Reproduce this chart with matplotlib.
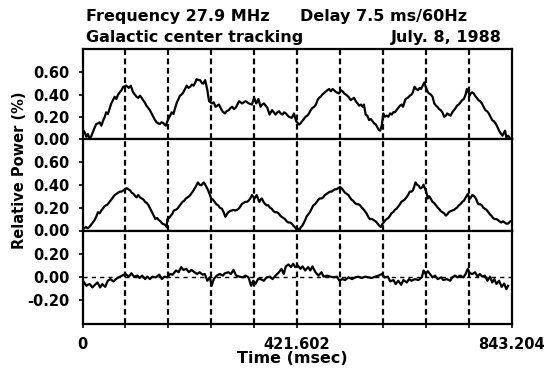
import numpy as np
import matplotlib
matplotlib.use("Agg")
import matplotlib.pyplot as plt

plt.rcParams['font.family'] = ['DejaVu Sans']
plt.rcParams['font.weight'] = 'bold'

# Sweep length and the delay grid that splits it into ten steps
SPAN_MS = 843.204
N_STEPS = 10
STEP_MS = SPAN_MS / N_STEPS

# Traces: (position in delay steps, relative power)
top_trace = [
    (0.00, 0.09), (0.05, 0.06), (0.09, 0.02), (0.125, 0.045), (0.16, 0.01), (0.20, 0.02),
    (0.24, 0.06), (0.28, 0.10), (0.32, 0.135), (0.36, 0.14), (0.40, 0.15), (0.44, 0.12),
    (0.48, 0.165), (0.52, 0.20), (0.55, 0.24), (0.59, 0.225), (0.63, 0.27), (0.67, 0.32),
    (0.71, 0.35), (0.75, 0.38), (0.79, 0.36), (0.83, 0.40), (0.87, 0.42), (0.91, 0.44),
    (0.95, 0.47), (1.02, 0.48), (1.08, 0.46), (1.125, 0.48), (1.18, 0.42), (1.22, 0.40),
    (1.26, 0.38), (1.30, 0.37), (1.34, 0.39), (1.38, 0.37), (1.41, 0.35), (1.45, 0.33),
    (1.49, 0.30), (1.53, 0.28), (1.57, 0.26), (1.61, 0.23), (1.65, 0.20), (1.69, 0.17),
    (1.73, 0.15), (1.77, 0.14), (1.80, 0.135), (1.84, 0.15), (1.88, 0.145), (1.91, 0.13),
    (1.94, 0.12), (1.97, 0.15), (2.00, 0.18), (2.04, 0.21), (2.08, 0.24), (2.12, 0.225),
    (2.16, 0.28), (2.20, 0.33), (2.24, 0.36), (2.27, 0.39), (2.31, 0.40), (2.35, 0.42),
    (2.39, 0.45), (2.43, 0.48), (2.47, 0.46), (2.51, 0.47), (2.55, 0.49), (2.59, 0.48),
    (2.63, 0.51), (2.66, 0.54), (2.70, 0.53), (2.74, 0.53), (2.79, 0.50), (2.82, 0.50),
    (2.86, 0.53), (2.91, 0.44), (2.95, 0.34), (3.02, 0.32), (3.06, 0.33), (3.10, 0.29),
    (3.14, 0.30), (3.18, 0.31), (3.22, 0.28), (3.26, 0.25), (3.32, 0.23), (3.36, 0.25),
    (3.41, 0.26), (3.45, 0.28), (3.49, 0.29), (3.53, 0.27), (3.57, 0.28), (3.61, 0.31),
    (3.65, 0.34), (3.72, 0.32), (3.76, 0.33), (3.80, 0.34), (3.84, 0.33), (3.88, 0.32),
    (3.95, 0.31), (4.00, 0.37), (4.05, 0.32), (4.10, 0.36), (4.15, 0.29), (4.19, 0.31),
    (4.23, 0.32), (4.27, 0.30), (4.31, 0.28), (4.36, 0.22), (4.42, 0.26), (4.46, 0.24),
    (4.50, 0.22), (4.54, 0.24), (4.58, 0.25), (4.62, 0.23), (4.66, 0.22), (4.70, 0.24),
    (4.74, 0.23), (4.81, 0.20), (4.88, 0.19), (4.93, 0.23), (4.98, 0.16), (5.05, 0.13),
    (5.08, 0.14), (5.12, 0.16), (5.16, 0.18), (5.20, 0.20), (5.24, 0.21), (5.28, 0.23),
    (5.32, 0.26), (5.36, 0.28), (5.40, 0.29), (5.44, 0.31), (5.48, 0.35), (5.51, 0.37),
    (5.55, 0.38), (5.59, 0.40), (5.65, 0.42), (5.71, 0.44), (5.75, 0.45), (5.79, 0.43),
    (5.83, 0.45), (5.86, 0.44), (5.92, 0.42), (5.98, 0.41), (6.02, 0.44), (6.06, 0.43),
    (6.10, 0.41), (6.14, 0.40), (6.20, 0.38), (6.25, 0.35), (6.29, 0.36), (6.33, 0.37),
    (6.37, 0.34), (6.41, 0.32), (6.45, 0.30), (6.49, 0.31), (6.53, 0.29), (6.56, 0.31),
    (6.60, 0.22), (6.64, 0.21), (6.68, 0.17), (6.72, 0.18), (6.76, 0.16), (6.80, 0.14),
    (6.84, 0.13), (6.88, 0.10), (6.91, 0.08), (6.94, 0.075), (6.98, 0.13), (7.01, 0.23),
    (7.05, 0.20), (7.09, 0.21), (7.13, 0.20), (7.17, 0.23), (7.21, 0.22), (7.24, 0.24),
    (7.28, 0.24), (7.32, 0.26), (7.36, 0.28), (7.40, 0.30), (7.44, 0.31), (7.47, 0.29),
    (7.53, 0.36), (7.58, 0.37), (7.63, 0.39), (7.67, 0.40), (7.70, 0.42), (7.74, 0.47),
    (7.78, 0.45), (7.82, 0.44), (7.86, 0.46), (7.89, 0.45), (7.93, 0.48), (7.97, 0.51),
    (8.00, 0.47), (8.02, 0.45), (8.05, 0.42), (8.08, 0.41), (8.12, 0.40), (8.16, 0.38),
    (8.20, 0.32), (8.24, 0.30), (8.27, 0.29), (8.31, 0.27), (8.35, 0.26), (8.39, 0.24),
    (8.43, 0.20), (8.47, 0.21), (8.50, 0.23), (8.54, 0.22), (8.58, 0.21), (8.62, 0.24),
    (8.66, 0.26), (8.70, 0.28), (8.73, 0.30), (8.77, 0.31), (8.81, 0.33), (8.85, 0.35),
    (8.89, 0.36), (8.93, 0.40), (8.96, 0.45), (9.00, 0.42), (9.02, 0.39), (9.05, 0.41),
    (9.08, 0.42), (9.12, 0.41), (9.15, 0.39), (9.19, 0.37), (9.23, 0.35), (9.27, 0.34),
    (9.31, 0.32), (9.35, 0.29), (9.39, 0.26), (9.43, 0.25), (9.47, 0.23), (9.51, 0.20),
    (9.55, 0.17), (9.59, 0.16), (9.63, 0.14), (9.67, 0.11), (9.71, 0.075), (9.75, 0.05),
    (9.79, 0.03), (9.85, 0.075), (9.88, 0.015), (9.92, 0.03), (9.96, 0.01),
]

mid_trace = [
    (0.00, 0.00), (0.02, 0.015), (0.08, 0.03), (0.12, 0.02), (0.16, 0.03), (0.20, 0.05),
    (0.24, 0.07), (0.28, 0.09), (0.32, 0.12), (0.36, 0.16), (0.40, 0.15), (0.43, 0.17),
    (0.47, 0.19), (0.51, 0.21), (0.55, 0.22), (0.59, 0.23), (0.63, 0.25), (0.67, 0.27),
    (0.71, 0.29), (0.75, 0.31), (0.79, 0.32), (0.83, 0.33), (0.87, 0.34), (0.91, 0.34),
    (0.95, 0.35), (0.99, 0.36), (1.03, 0.37), (1.07, 0.36), (1.11, 0.35), (1.15, 0.33),
    (1.19, 0.32), (1.23, 0.30), (1.26, 0.29), (1.30, 0.31), (1.34, 0.29), (1.38, 0.28),
    (1.42, 0.27), (1.46, 0.25), (1.50, 0.24), (1.54, 0.22), (1.58, 0.19), (1.62, 0.16),
    (1.66, 0.13), (1.70, 0.10), (1.74, 0.11), (1.78, 0.09), (1.82, 0.08), (1.86, 0.06),
    (1.90, 0.055), (1.94, 0.045), (1.96, 0.03), (1.98, 0.10), (2.02, 0.11), (2.06, 0.13),
    (2.10, 0.15), (2.13, 0.175), (2.17, 0.18), (2.21, 0.19), (2.25, 0.21), (2.29, 0.23),
    (2.33, 0.25), (2.37, 0.26), (2.41, 0.28), (2.45, 0.29), (2.49, 0.30), (2.53, 0.32),
    (2.57, 0.34), (2.61, 0.365), (2.65, 0.39), (2.69, 0.42), (2.73, 0.40), (2.77, 0.395),
    (2.80, 0.41), (2.83, 0.42), (2.86, 0.40), (2.89, 0.38), (2.93, 0.35), (2.96, 0.32),
    (3.00, 0.28), (3.04, 0.27), (3.08, 0.25), (3.12, 0.23), (3.16, 0.22), (3.20, 0.20),
    (3.25, 0.19), (3.29, 0.16), (3.33, 0.12), (3.36, 0.14), (3.40, 0.16), (3.44, 0.17),
    (3.48, 0.175), (3.52, 0.18), (3.56, 0.175), (3.60, 0.18), (3.64, 0.19), (3.68, 0.21),
    (3.71, 0.23), (3.75, 0.24), (3.79, 0.25), (3.83, 0.25), (3.87, 0.26), (3.91, 0.28),
    (3.95, 0.31), (4.01, 0.28), (4.06, 0.31), (4.12, 0.25), (4.15, 0.27), (4.18, 0.28),
    (4.22, 0.25), (4.26, 0.23), (4.30, 0.22), (4.33, 0.22), (4.37, 0.20), (4.41, 0.19),
    (4.45, 0.17), (4.49, 0.16), (4.53, 0.16), (4.57, 0.15), (4.61, 0.13), (4.64, 0.12),
    (4.68, 0.11), (4.72, 0.10), (4.76, 0.08), (4.80, 0.07), (4.84, 0.07), (4.88, 0.06),
    (4.92, 0.04), (4.95, 0.03), (4.99, 0.01), (5.02, 0.015), (5.05, 0.00), (5.09, 0.03),
    (5.12, 0.04), (5.15, 0.06), (5.19, 0.09), (5.22, 0.12), (5.26, 0.14), (5.30, 0.16),
    (5.34, 0.19), (5.38, 0.22), (5.42, 0.23), (5.46, 0.25), (5.50, 0.27), (5.53, 0.28),
    (5.57, 0.28), (5.61, 0.29), (5.65, 0.31), (5.69, 0.32), (5.73, 0.33), (5.77, 0.34),
    (5.81, 0.34), (5.84, 0.35), (5.88, 0.36), (5.92, 0.36), (5.96, 0.37), (6.00, 0.38),
    (6.04, 0.37), (6.08, 0.35), (6.12, 0.33), (6.16, 0.32), (6.20, 0.31), (6.23, 0.29),
    (6.27, 0.27), (6.31, 0.26), (6.35, 0.24), (6.39, 0.23), (6.43, 0.23), (6.47, 0.22),
    (6.51, 0.20), (6.54, 0.19), (6.58, 0.17), (6.62, 0.15), (6.66, 0.12), (6.70, 0.10),
    (6.75, 0.10), (6.79, 0.09), (6.83, 0.08), (6.86, 0.07), (6.90, 0.05), (6.95, 0.03),
    (6.98, 0.05), (7.02, 0.07), (7.06, 0.09), (7.09, 0.10), (7.13, 0.11), (7.17, 0.13),
    (7.20, 0.15), (7.24, 0.16), (7.28, 0.18), (7.32, 0.19), (7.36, 0.21), (7.40, 0.23),
    (7.43, 0.25), (7.47, 0.26), (7.51, 0.27), (7.55, 0.29), (7.59, 0.31), (7.63, 0.34),
    (7.67, 0.34), (7.70, 0.35), (7.73, 0.38), (7.76, 0.42), (7.80, 0.40), (7.84, 0.39),
    (7.87, 0.37), (7.89, 0.37), (7.92, 0.38), (7.95, 0.40), (7.98, 0.37), (8.01, 0.34),
    (8.05, 0.28), (8.08, 0.30), (8.10, 0.29), (8.13, 0.27), (8.16, 0.25), (8.20, 0.24),
    (8.24, 0.22), (8.28, 0.20), (8.31, 0.19), (8.35, 0.17), (8.39, 0.16), (8.43, 0.15),
    (8.47, 0.13), (8.50, 0.14), (8.54, 0.16), (8.58, 0.17), (8.62, 0.175), (8.66, 0.18),
    (8.69, 0.19), (8.73, 0.20), (8.77, 0.22), (8.81, 0.23), (8.85, 0.25), (8.89, 0.26),
    (8.92, 0.28), (8.95, 0.30), (8.98, 0.32), (9.01, 0.29), (9.04, 0.28), (9.07, 0.30),
    (9.09, 0.31), (9.13, 0.30), (9.17, 0.28), (9.20, 0.25), (9.23, 0.23), (9.27, 0.23),
    (9.31, 0.22), (9.34, 0.20), (9.38, 0.19), (9.42, 0.18), (9.46, 0.16), (9.50, 0.14),
    (9.53, 0.13), (9.57, 0.11), (9.61, 0.10), (9.65, 0.10), (9.69, 0.09), (9.72, 0.08),
    (9.76, 0.07), (9.80, 0.08), (9.84, 0.07), (9.88, 0.06), (9.92, 0.06), (9.97, 0.08),
]

low_trace = [
    (0.00, -0.03), (0.04, -0.047), (0.09, -0.076), (0.13, -0.065), (0.17, -0.061),
    (0.23, -0.09), (0.29, -0.067), (0.35, -0.047), (0.41, -0.09), (0.46, -0.061),
    (0.53, -0.085), (0.59, -0.032), (0.65, -0.018), (0.72, -0.038), (0.78, -0.018),
    (0.84, -0.003), (0.92, 0.012), (1.00, 0.026), (1.08, 0.003), (1.14, 0.032),
    (1.20, 0.003), (1.28, 0.012), (1.33, -0.009), (1.39, 0.012), (1.46, -0.018),
    (1.51, 0.003), (1.57, -0.018), (1.63, 0.003), (1.71, -0.003), (1.79, 0.020),
    (1.85, -0.018), (1.91, 0.003), (1.98, -0.003), (2.04, 0.026), (2.10, 0.020),
    (2.18, 0.056), (2.24, 0.041), (2.30, 0.085), (2.35, 0.061), (2.42, 0.070),
    (2.48, 0.041), (2.54, 0.061), (2.61, 0.041), (2.67, 0.026), (2.73, 0.041),
    (2.80, 0.020), (2.85, 0.026), (2.91, -0.032), (2.97, -0.003), (3.01, -0.076),
    (3.06, -0.018), (3.13, 0.012), (3.20, 0.026), (3.27, 0.012), (3.32, 0.032),
    (3.40, 0.041), (3.46, 0.026), (3.52, 0.061), (3.58, 0.012), (3.66, 0.003),
    (3.74, -0.003), (3.80, 0.012), (3.87, -0.003), (3.93, -0.076), (3.98, -0.032),
    (4.03, -0.061), (4.09, -0.018), (4.15, -0.018), (4.23, -0.032), (4.29, -0.003),
    (4.37, 0.003), (4.43, -0.018), (4.50, 0.012), (4.58, 0.041), (4.64, 0.070),
    (4.69, 0.026), (4.74, 0.091), (4.80, 0.108), (4.86, 0.085), (4.91, 0.114),
    (4.96, 0.085), (5.02, 0.099), (5.08, 0.070), (5.13, 0.091), (5.19, 0.056),
    (5.26, 0.085), (5.31, 0.056), (5.36, 0.091), (5.43, 0.041), (5.50, 0.012),
    (5.57, 0.041), (5.62, 0.003), (5.70, 0.012), (5.78, 0.003), (5.85, -0.003),
    (5.93, 0.003), (5.99, -0.032), (6.05, -0.018), (6.12, -0.026), (6.20, -0.003),
    (6.28, -0.018), (6.36, -0.003), (6.43, 0.003), (6.51, -0.009), (6.59, 0.003),
    (6.67, -0.003), (6.74, -0.009), (6.82, 0.003), (6.90, 0.012), (6.98, 0.026),
    (7.04, -0.003), (7.12, 0.003), (7.17, -0.038), (7.25, -0.026), (7.30, -0.061),
    (7.36, -0.032), (7.43, -0.067), (7.48, -0.026), (7.56, -0.047), (7.61, -0.018),
    (7.67, -0.032), (7.75, -0.018), (7.83, -0.026), (7.91, -0.003), (7.95, 0.056),
    (8.00, 0.026), (8.05, 0.050), (8.10, 0.026), (8.16, -0.003), (8.22, 0.012),
    (8.28, -0.018), (8.36, -0.003), (8.41, -0.026), (8.49, -0.018), (8.57, -0.032),
    (8.62, -0.003), (8.68, 0.012), (8.74, -0.003), (8.80, 0.012), (8.88, -0.003),
    (8.93, 0.026), (8.98, 0.070), (9.03, 0.032), (9.09, 0.026), (9.15, 0.041),
    (9.21, 0.003), (9.26, 0.026), (9.32, 0.003), (9.38, 0.012), (9.44, -0.032),
    (9.50, 0.003), (9.55, -0.047), (9.60, -0.018), (9.65, -0.061), (9.71, -0.032),
    (9.77, -0.085), (9.83, -0.056), (9.88, -0.105), (9.92, -0.076),
]

upper_ticks = [0.0, 0.2, 0.4, 0.6]
upper_labels = ["0.00", "0.20", "0.40", "0.60"]
lower_ticks = [-0.2, 0.0, 0.2]
lower_labels = ["-0.20", "0.00", "0.20"]
x_label_ticks = [0.0, SPAN_MS / 2, SPAN_MS]
x_label_text = ["0", "421.602", "843.204"]

W, H = 558, 369
fig = plt.figure(figsize=(W / 100, H / 100), dpi=100)
fig.patch.set_facecolor("white")

left_px, right_px = 82.5, 511.5
rows_px = [49, 139, 230.5, 323.5]


def frac_y(p):
    return 1 - p / H


panel_ylims = [(0.0, 0.81), (0.0, 0.80), (-0.40, 0.40)]
axes = []
for i in range(3):
    bottom = frac_y(rows_px[i + 1])
    height = (rows_px[i + 1] - rows_px[i]) / H
    ax = fig.add_axes([left_px / W, bottom, (right_px - left_px) / W, height])
    ax.set_xlim(0, SPAN_MS)
    ax.set_ylim(*panel_ylims[i])
    for sp in ax.spines.values():
        sp.set_linewidth(1.6)
        sp.set_color("black")
    ax.tick_params(axis="y", direction="out", length=3, width=1.2,
                   pad=6.0, labelsize=10.5)
    ax.tick_params(axis="x", bottom=False, labelbottom=False)
    # delay grid
    for k in range(1, N_STEPS):
        ax.axvline(k * STEP_MS, color="black", lw=1.6,
                   linestyle=(0, (2.6, 1.6)), zorder=1)
    axes.append(ax)

ax_top, ax_mid, ax_low = axes

series = [(ax_top, top_trace), (ax_mid, mid_trace), (ax_low, low_trace)]
for ax, tr in series:
    pos = np.array([p for p, _ in tr]) * STEP_MS
    val = np.array([v for _, v in tr])
    ax.plot(pos, val, color="black", lw=1.6, solid_joinstyle="round", zorder=3)

for ax in (ax_top, ax_mid):
    ax.set_yticks(upper_ticks)
    ax.set_yticklabels(upper_labels, fontweight="bold")

ax_low.set_yticks(lower_ticks)
ax_low.set_yticklabels(lower_labels, fontweight="bold")
ax_low.axhline(0.0, color="black", lw=1.0, linestyle=(0, (3, 3)), zorder=2)

ax_low.tick_params(axis="x", bottom=True, labelbottom=True, direction="out",
                   length=3, width=1.2, pad=7.0, labelsize=10.5)
ax_low.set_xticks(x_label_ticks)
ax_low.set_xticklabels(x_label_text, fontweight="bold")
ax_low.set_xticks([k * STEP_MS for k in range(N_STEPS + 1)], minor=True)
ax_low.tick_params(axis="x", which="minor", direction="out", length=3, width=1.2)

# header lines
fs_head = 11.5
fig.text(86 / W, frac_y(21), "Frequency 27.9 MHz", fontsize=fs_head, fontweight="bold",
         ha="left", va="baseline")
fig.text(300 / W, frac_y(21), "Delay 7.5 ms/60Hz", fontsize=fs_head, fontweight="bold",
         ha="left", va="baseline")
fig.text(86 / W, frac_y(42), "Galactic center tracking", fontsize=fs_head, fontweight="bold",
         ha="left", va="baseline")
fig.text(502 / W, frac_y(42), "July. 8, 1988", fontsize=fs_head, fontweight="bold",
         ha="right", va="baseline")

fig.text(20 / W, frac_y(170), "Relative Power (%)", fontsize=10.5, fontweight="bold",
         rotation=90, ha="center", va="center")
fig.text(292 / W, frac_y(363), "Time (msec)", fontsize=11.5, fontweight="bold",
         ha="center", va="baseline")

fig.savefig("out.png", dpi=100, facecolor="white")
